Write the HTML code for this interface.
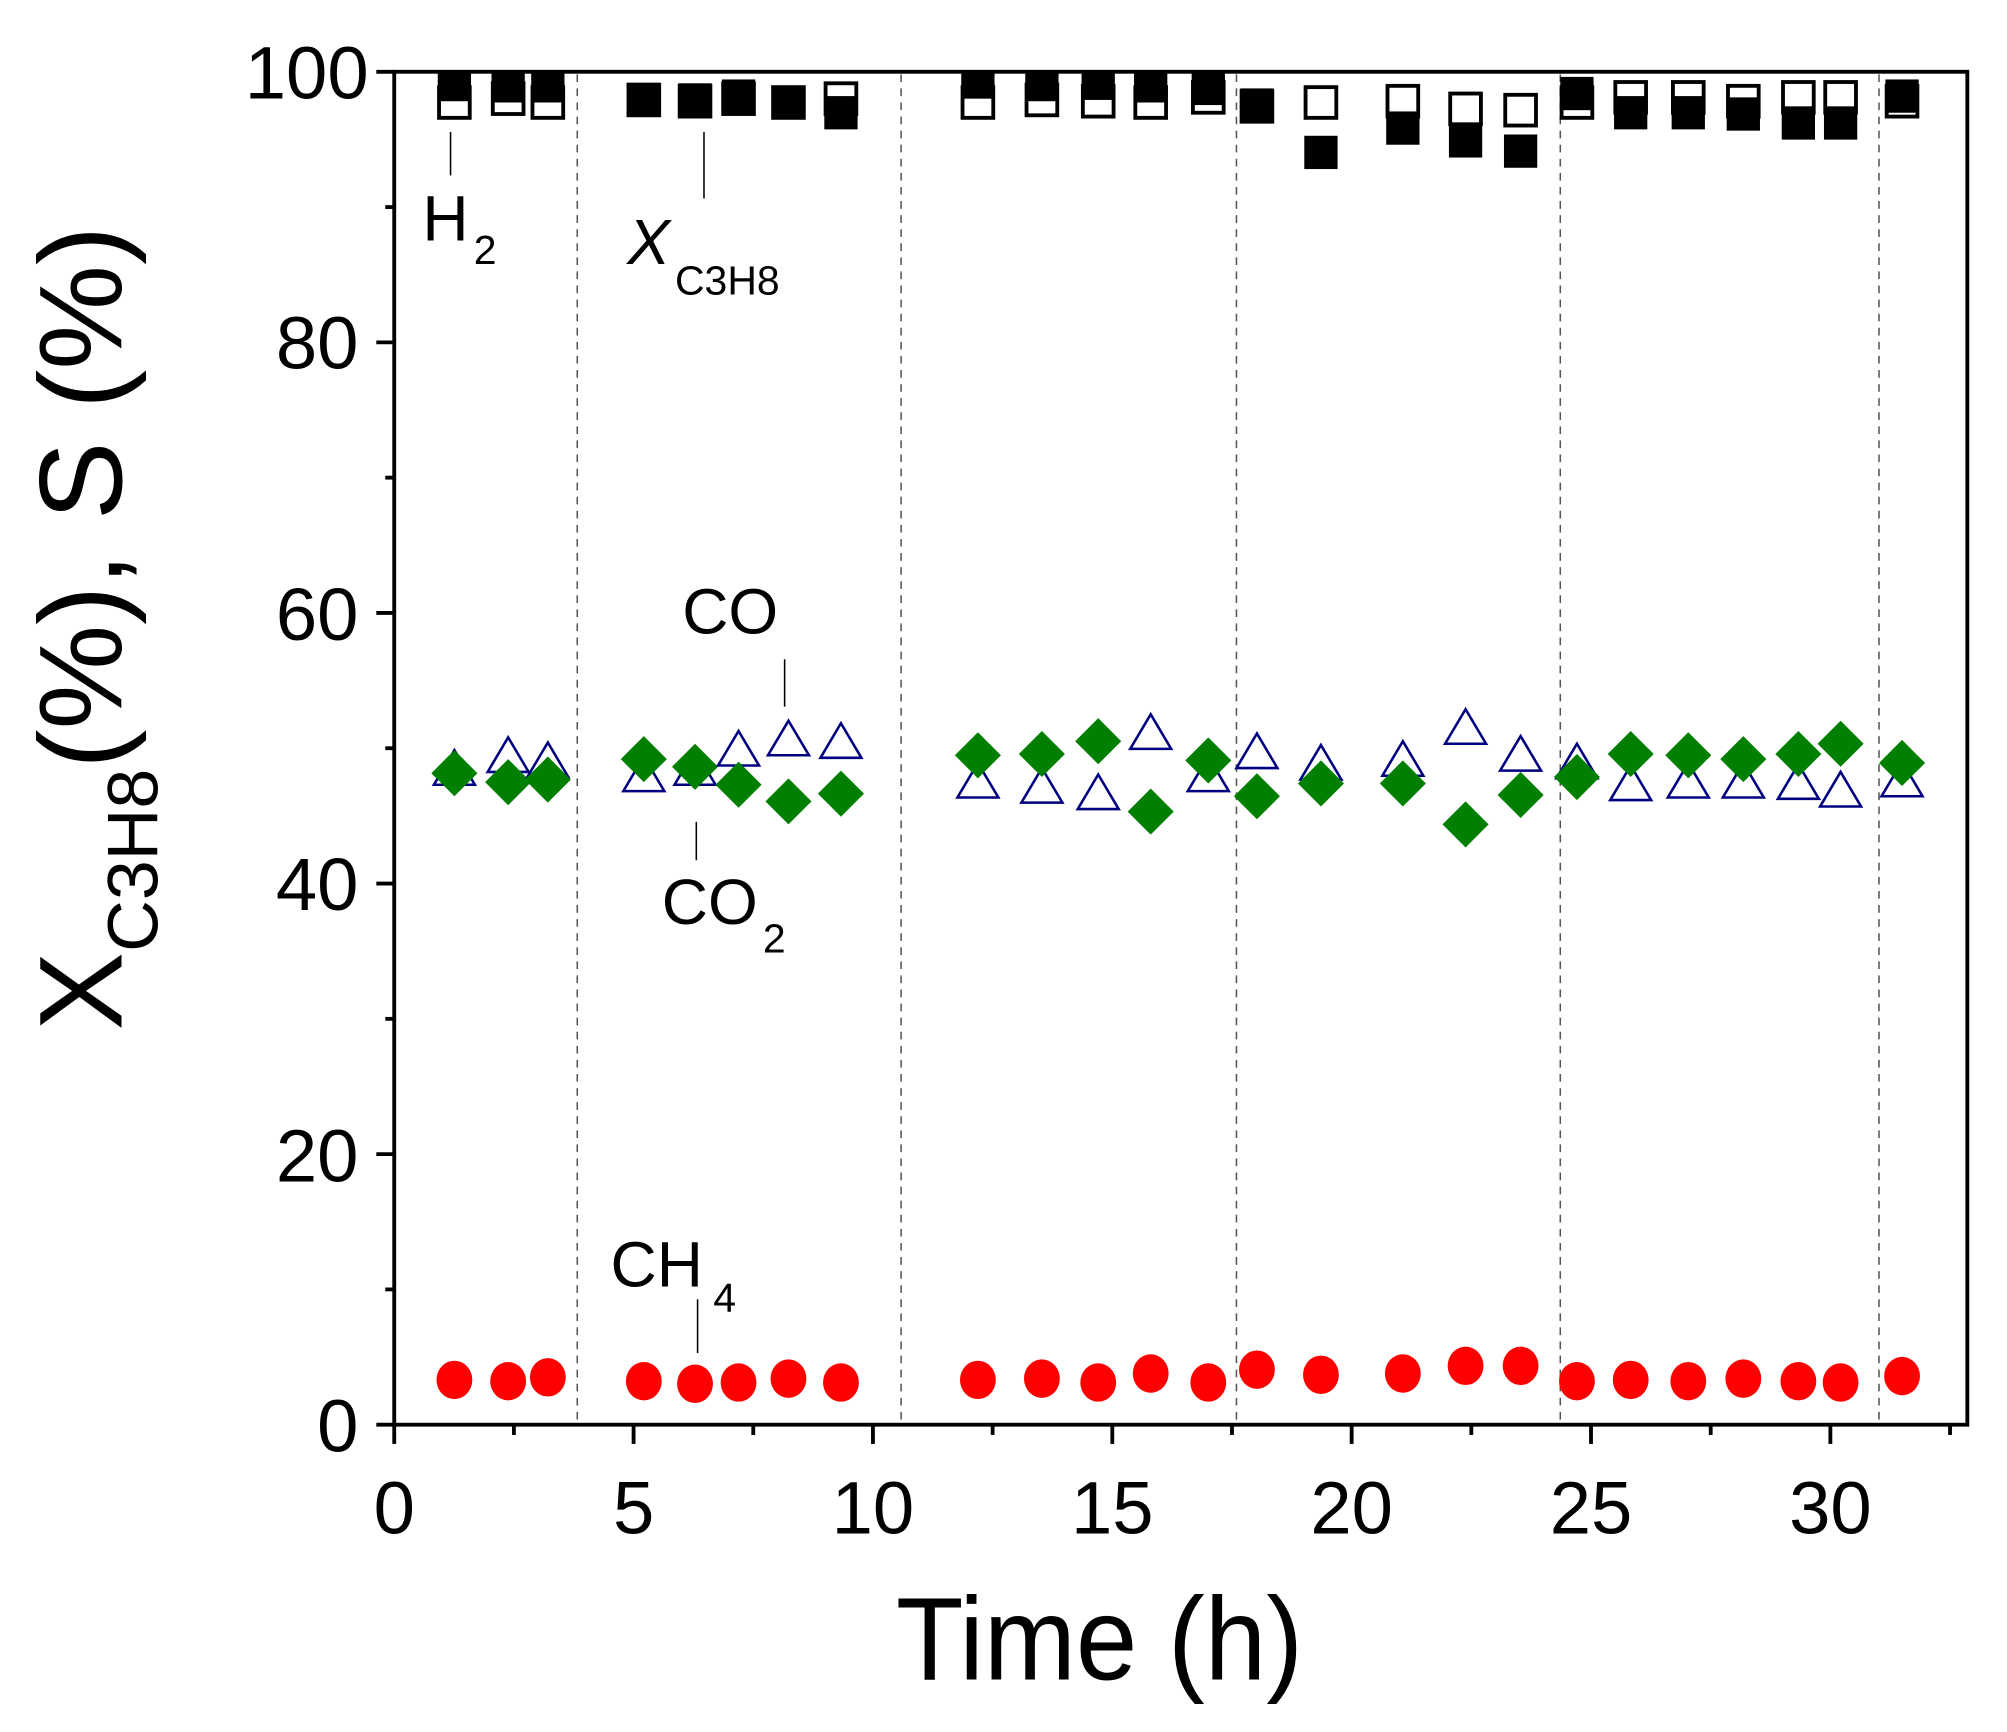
<!DOCTYPE html>
<html><head><meta charset="utf-8"><style>html,body{margin:0;padding:0;background:#fff}svg{display:block}</style></head>
<body>
<svg width="2007" height="1732" viewBox="0 0 1568 1353" xmlns="http://www.w3.org/2000/svg" xmlns:xlink="http://www.w3.org/1999/xlink" font-family="Liberation Sans, Arial, sans-serif">
<defs>
<clipPath id="c"><rect x="308" y="56" width="1229" height="1057"/></clipPath>
<rect id="o" x="-12" y="-12" width="24" height="24" fill="#fff" stroke="#000" stroke-width="3"/>
<rect id="f" x="-13" y="-13" width="26" height="26" fill="#000"/>
<polygon id="t" points="-16,13 16,13 0,-14" fill="none" stroke="#000080" stroke-width="2"/>
<polygon id="d" points="-18,0 0,-18 18,0 0,18" fill="#007f00"/>
<ellipse id="e" rx="14" ry="15" fill="#f00"/>
</defs>
<rect width="1568" height="1353" fill="#fff"/>
<g stroke="#555" stroke-width="1.2" stroke-dasharray="6,5">
<line x1="451" y1="58" x2="451" y2="1111"/><line x1="704" y1="58" x2="704" y2="1111"/>
<line x1="966" y1="58" x2="966" y2="1111"/><line x1="1219" y1="58" x2="1219" y2="1111"/>
<line x1="1468" y1="58" x2="1468" y2="1111"/>
</g>
<g clip-path="url(#c)">
<use href="#o" x="355" y="80"/><use href="#f" x="355" y="66"/>
<use href="#o" x="397" y="77"/><use href="#f" x="397" y="67"/>
<use href="#o" x="428" y="80"/><use href="#f" x="428" y="67"/>
<use href="#o" x="503" y="78"/><use href="#f" x="503" y="78"/>
<use href="#o" x="543" y="79"/><use href="#f" x="543" y="78"/>
<use href="#o" x="577" y="77"/><use href="#f" x="577" y="75"/>
<use href="#o" x="616" y="80"/><use href="#f" x="616" y="80"/>
<use href="#o" x="657" y="77"/><use href="#f" x="657" y="88"/>
<use href="#o" x="764" y="80"/><use href="#f" x="764" y="64"/>
<use href="#o" x="814" y="78"/><use href="#f" x="814" y="66"/>
<use href="#o" x="858" y="79"/><use href="#f" x="858" y="65"/>
<use href="#o" x="899" y="80"/><use href="#f" x="899" y="67"/>
<use href="#o" x="944" y="76"/><use href="#f" x="944" y="69"/>
<use href="#o" x="982" y="83"/><use href="#f" x="982" y="82"/>
<use href="#o" x="1032" y="80"/><use href="#f" x="1032" y="119"/>
<use href="#o" x="1096" y="79"/><use href="#f" x="1096" y="100"/>
<use href="#o" x="1145" y="85"/><use href="#f" x="1145" y="110"/>
<use href="#o" x="1188" y="86"/><use href="#f" x="1188" y="118"/>
<use href="#o" x="1232" y="80"/><use href="#f" x="1232" y="73"/>
<use href="#o" x="1274" y="76"/><use href="#f" x="1274" y="88"/>
<use href="#o" x="1319" y="76"/><use href="#f" x="1319" y="88"/>
<use href="#o" x="1362" y="79"/><use href="#f" x="1362" y="89"/>
<use href="#o" x="1405" y="76"/><use href="#f" x="1405" y="96"/>
<use href="#o" x="1438" y="76"/><use href="#f" x="1438" y="96"/>
<use href="#o" x="1486" y="79"/><use href="#f" x="1486" y="75"/>

<use href="#t" x="355" y="600"/><use href="#d" x="355" y="604"/>
<use href="#t" x="397" y="590"/><use href="#d" x="397" y="611"/>
<use href="#t" x="428" y="594"/><use href="#d" x="428" y="609"/>
<use href="#t" x="503" y="605"/><use href="#d" x="503" y="593"/>
<use href="#t" x="543" y="600"/><use href="#d" x="543" y="599"/>
<use href="#t" x="577" y="585"/><use href="#d" x="577" y="613"/>
<use href="#t" x="616" y="577"/><use href="#d" x="616" y="626"/>
<use href="#t" x="657" y="579"/><use href="#d" x="657" y="620"/>
<use href="#t" x="764" y="610"/><use href="#d" x="764" y="590"/>
<use href="#t" x="814" y="614"/><use href="#d" x="814" y="589"/>
<use href="#t" x="858" y="619"/><use href="#d" x="858" y="579"/>
<use href="#t" x="899" y="572"/><use href="#d" x="899" y="634"/>
<use href="#t" x="944" y="605"/><use href="#d" x="944" y="594"/>
<use href="#t" x="982" y="587"/><use href="#d" x="982" y="622"/>
<use href="#t" x="1032" y="596"/><use href="#d" x="1032" y="612"/>
<use href="#t" x="1096" y="593"/><use href="#d" x="1096" y="612"/>
<use href="#t" x="1145" y="568"/><use href="#d" x="1145" y="644"/>
<use href="#t" x="1188" y="589"/><use href="#d" x="1188" y="621"/>
<use href="#t" x="1232" y="595"/><use href="#d" x="1232" y="607"/>
<use href="#t" x="1274" y="612"/><use href="#d" x="1274" y="589"/>
<use href="#t" x="1319" y="610"/><use href="#d" x="1319" y="590"/>
<use href="#t" x="1362" y="610"/><use href="#d" x="1362" y="593"/>
<use href="#t" x="1405" y="611"/><use href="#d" x="1405" y="589"/>
<use href="#t" x="1438" y="617"/><use href="#d" x="1438" y="581"/>
<use href="#t" x="1486" y="609"/><use href="#d" x="1486" y="596"/>

<use href="#e" x="355" y="1078"/><use href="#e" x="397" y="1079"/><use href="#e" x="428" y="1076"/>
<use href="#e" x="503" y="1079"/><use href="#e" x="543" y="1081"/><use href="#e" x="577" y="1080"/>
<use href="#e" x="616" y="1077"/><use href="#e" x="657" y="1080"/><use href="#e" x="764" y="1078"/>
<use href="#e" x="814" y="1077"/><use href="#e" x="858" y="1080"/><use href="#e" x="899" y="1073"/>
<use href="#e" x="944" y="1080"/><use href="#e" x="982" y="1070"/><use href="#e" x="1032" y="1074"/>
<use href="#e" x="1096" y="1073"/><use href="#e" x="1145" y="1067"/><use href="#e" x="1188" y="1067"/>
<use href="#e" x="1232" y="1079"/><use href="#e" x="1274" y="1078"/><use href="#e" x="1319" y="1079"/>
<use href="#e" x="1362" y="1077"/><use href="#e" x="1405" y="1079"/><use href="#e" x="1438" y="1080"/>
<use href="#e" x="1486" y="1075"/>
</g>
<rect x="308" y="56" width="1229" height="1057" fill="none" stroke="#000" stroke-width="3"/>
<g stroke="#000" stroke-width="3">
<line x1="294" x2="308" y1="1113" y2="1113"/><line x1="301" x2="308" y1="1007.3" y2="1007.3"/>
<line x1="294" x2="308" y1="901.6" y2="901.6"/><line x1="301" x2="308" y1="795.9" y2="795.9"/>
<line x1="294" x2="308" y1="690.2" y2="690.2"/><line x1="301" x2="308" y1="584.5" y2="584.5"/>
<line x1="294" x2="308" y1="478.8" y2="478.8"/><line x1="301" x2="308" y1="373.1" y2="373.1"/>
<line x1="294" x2="308" y1="267.4" y2="267.4"/><line x1="301" x2="308" y1="161.7" y2="161.7"/>
<line x1="294" x2="308" y1="56" y2="56"/>
<line x1="308" x2="308" y1="1113" y2="1128"/><line x1="401.5" x2="401.5" y1="1113" y2="1121"/>
<line x1="495" x2="495" y1="1113" y2="1128"/><line x1="588.5" x2="588.5" y1="1113" y2="1121"/>
<line x1="682" x2="682" y1="1113" y2="1128"/><line x1="775.5" x2="775.5" y1="1113" y2="1121"/>
<line x1="869" x2="869" y1="1113" y2="1128"/><line x1="962.5" x2="962.5" y1="1113" y2="1121"/>
<line x1="1056" x2="1056" y1="1113" y2="1128"/><line x1="1149.5" x2="1149.5" y1="1113" y2="1121"/>
<line x1="1243" x2="1243" y1="1113" y2="1128"/><line x1="1336.5" x2="1336.5" y1="1113" y2="1121"/>
<line x1="1430" x2="1430" y1="1113" y2="1128"/><line x1="1523.5" x2="1523.5" y1="1113" y2="1121"/>
</g>
<g font-size="58" text-anchor="end">
<text x="280" y="1134">0</text><text x="280" y="923">20</text><text x="280" y="711">40</text>
<text x="280" y="500">60</text><text x="280" y="288">80</text><text x="288" y="77">100</text>
</g>
<g font-size="58" text-anchor="middle">
<text x="308" y="1198">0</text><text x="495" y="1198">5</text><text x="682" y="1198">10</text>
<text x="869" y="1198">15</text><text x="1056" y="1198">20</text><text x="1243" y="1198">25</text>
<text x="1430" y="1198">30</text>
</g>
<text x="700" y="1312" font-size="92" textLength="318" lengthAdjust="spacingAndGlyphs">Time (h)</text>
<text transform="translate(95,805) rotate(-90)" font-size="92">X<tspan font-size="56" dy="28">C3H8</tspan><tspan dy="-28">(%), S (%)</tspan></text>
<g stroke="#000" stroke-width="1.2">
<line x1="352" y1="103" x2="352" y2="137"/><line x1="550" y1="103" x2="550" y2="155"/>
<line x1="613" y1="515" x2="613" y2="552"/><line x1="544" y1="642" x2="544" y2="672"/>
<line x1="545" y1="1015" x2="545" y2="1057"/>
</g>
<g font-size="50">
<text x="330" y="188">H<tspan font-size="32" dx="4" dy="18">2</tspan></text>
<text x="490" y="206" font-style="italic">X<tspan font-size="32" font-style="normal" dx="4" dy="24">C3H8</tspan></text>
<text x="533" y="495">CO</text>
<text x="517" y="722">CO<tspan font-size="32" dx="4" dy="22">2</tspan></text>
<text x="477" y="1005">CH<tspan font-size="32" dx="8" dy="20">4</tspan></text>
</g>
</svg>
</body></html>
